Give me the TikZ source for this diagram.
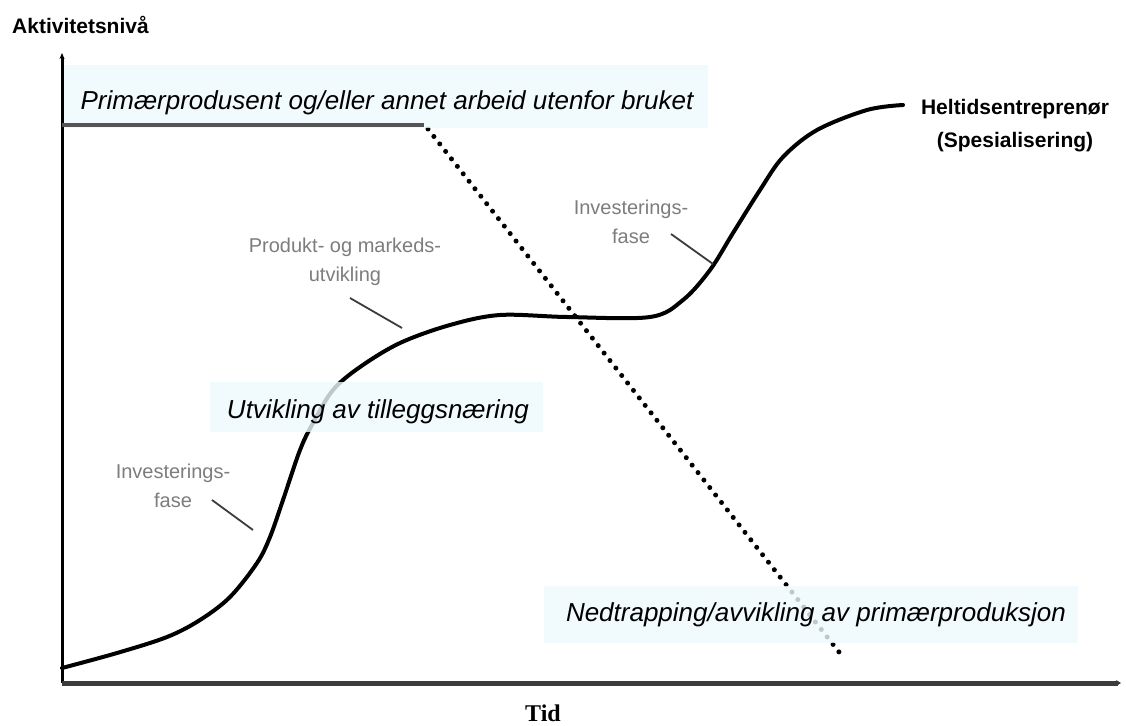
\documentclass[tikz,border=0pt]{standalone}
\usepackage{fontspec}
\setmainfont{Liberation Sans}
\newfontfamily\serifa{Liberation Serif}
\usetikzlibrary{arrows.meta}
\definecolor{boxfill}{RGB}{238,249,252}
\definecolor{annoc}{RGB}{125,125,125}
\definecolor{axisc}{RGB}{60,60,60}
\definecolor{shelf}{RGB}{85,85,85}
\begin{document}
\begin{tikzpicture}[x=1pt,y=-1pt,
  lab/.style={font=\fontsize{26}{30}\selectfont\itshape, inner sep=0pt, anchor=base},
  band/.style={fill=boxfill, fill opacity=0.8, draw=none},
  annot/.style={font=\fontsize{20}{29}\selectfont, text=annoc, align=center, inner sep=0pt},
  pointer/.style={draw=axisc, line width=1.8pt},
  boldlab/.style={font=\fontsize{21}{33}\selectfont\bfseries, inner sep=0pt, align=center}]
\useasboundingbox (0,0) rectangle (1126,725);
\fill[white] (0,0) rectangle (1126,725);

% axes
\coordinate (O) at (62,683);
\coordinate (ytop) at (62,53);
\coordinate (xend) at (1121,683);
\draw[line width=3pt, -{Stealth[length=6pt,width=5pt]}] (O) -- (ytop);
\draw[axisc, line width=5pt, -{Stealth[length=5pt,width=6pt]}] (O) -- (xend);

% declining primary production (dotted)
\coordinate (s0) at (62,125);
\coordinate (s1) at (424,125);
\coordinate (d0) at (428,129);
\coordinate (d1) at (839,652);
\draw[line width=5pt, line cap=round, dash pattern=on 0pt off 9.5pt] (d0) -- (d1);

% main curve
\draw[line width=4pt, line cap=round] plot[smooth, tension=0.55] coordinates {
(62,668) (117,653) (167,637) (200,620) (230,597) (257,563) (270,537)
(283,500) (300,450) (313,423) (333,390) (360,367) (400,343) (450,325)
(500,315) (567,317) (650,317) (683,300) (710,270) (733,233) (760,190)
(783,157) (817,130) (867,110) (903,105)};

% label bands
\fill[band] (64,65) rectangle (708,128);
\fill[band] (210,382) rectangle (543,432);
\fill[band] (544,586) rectangle (1078,643);

% flat primary production level
\draw[shelf, line width=4pt] (s0) -- (s1);

\node[lab] (prim) at (387,109) {Primærprodusent og/eller annet arbeid utenfor bruket};
\node[lab] (utv) at (378,418) {Utvikling av tilleggsnæring};
\node[lab] (ned) at (816,621) {Nedtrapping/avvikling av primærproduksjon};

% axis labels
\node[boldlab, anchor=west] (akt) at (12,25) {Aktivitetsnivå};
\node[font=\serifa\bfseries\fontsize{24}{28}\selectfont, inner sep=0pt] (tid) at (543,713) {Tid};
\node[boldlab] (helt) at (1015,126) {Heltidsentreprenør\\(Spesialisering)};

% annotations
\node[annot] (inv1) at (173,486) {Investerings-\\fase};
\node[annot] (inv2) at (631,222) {Investerings-\\fase};
\node[annot] (prod) at (345,262) {Produkt- og markeds-\\utvikling};

\coordinate (p1a) at (212,500); \coordinate (p1b) at (253,530);
\coordinate (p2a) at (671,234); \coordinate (p2b) at (713,264);
\coordinate (p3a) at (350,298); \coordinate (p3b) at (402,328);
\draw[pointer] (p1a) -- (p1b);
\draw[pointer] (p2a) -- (p2b);
\draw[pointer] (p3a) -- (p3b);
\end{tikzpicture}
\end{document}
